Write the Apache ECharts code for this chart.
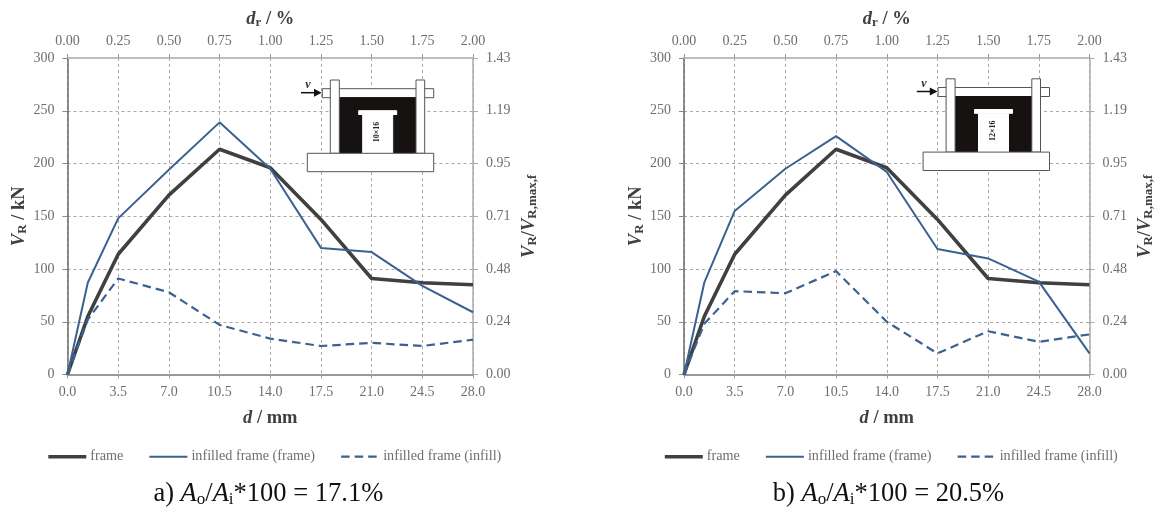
<!DOCTYPE html>
<html><head><meta charset="utf-8">
<style>html,body{margin:0;padding:0;background:#fff}#c{width:1156px;height:507px}</style>
<script src="https://cdn.jsdelivr.net/npm/echarts@6/dist/echarts.min.js"></script>
</head><body><div id="c"></div>
<script>
const dispMm = [0, 1.4, 3.5, 7, 10.5, 14, 17.5, 21, 24.5, 28];
const frameVals = [0, 55, 114, 170, 213.5, 196, 147, 91, 87, 85];
const infFrameA = [0, 87, 148, 194, 239, 195, 120, 116, 84, 59];
const infillA = [0, 52, 91, 78, 47, 34, 27, 30, 27, 33];
const infFrameB = [0, 87, 155, 195, 226, 192, 119, 110, 88, 20];
const infillB = [0, 48, 79, 77, 98, 50, 20, 41, 31, 38];
const names = ['frame', 'infilled frame (frame)', 'infilled frame (infill)'];
const openingLabels = ['10×16', '12×16'];

const SERIF = '"Liberation Serif","Times New Roman",serif';
const GREY = '#6e6e6e', DARK = '#404040', BLUE = '#3a6290';
const zip = v => dispMm.map((x, i) => [x, v[i]]);
const nameRich = {
  b: {fontFamily: SERIF, fontSize: 18.5, fontWeight: 'bold', fontStyle: 'italic', color: DARK},
  n: {fontFamily: SERIF, fontSize: 18.5, fontWeight: 'bold', color: DARK},
  s: {fontFamily: SERIF, fontSize: 13, fontWeight: 'bold', color: DARK, verticalAlign: 'bottom', padding: [7, 0, 0, 0]},
  si: {fontFamily: SERIF, fontSize: 13, fontWeight: 'bold', color: DARK, verticalAlign: 'bottom', padding: [7, 0, 0, 0]}
};
const capRich = {
  t: {fontFamily: SERIF, fontSize: 26.5, fontWeight: 'normal', color: '#111'},
  i: {fontFamily: SERIF, fontSize: 26.5, fontWeight: 'normal', fontStyle: 'italic', color: '#111'},
  s: {fontFamily: SERIF, fontSize: 17, fontWeight: 'normal', color: '#111', verticalAlign: 'bottom', padding: [9, 0, 0, 0]}
};
const lbl = {fontFamily: SERIF, fontSize: 14, color: GREY};
const gridLine = {show: true, lineStyle: {color: '#a8a8a8', type: [3, 3], width: 1}};
const axisX = (g, extra) => Object.assign({
  type: 'value', gridIndex: g,
  axisTick: {show: true, length: 4, lineStyle: {color: '#999'}}, nameLocation: 'middle', nameTextStyle: {rich: nameRich}
}, extra);

const grids = [
  {left: 67.5, top: 58, width: 405.5, height: 316.5, outerBoundsMode: 'none'},
  {left: 684, top: 58, width: 405.5, height: 316.5, outerBoundsMode: 'none'}
];
const xAxes = [], yAxes = [], series = [];
[0, 1].forEach(k => {
  xAxes.push(axisX(k, {position: 'bottom', min: 0, max: 28, interval: 3.5,
    axisLine: {onZero: false, lineStyle: {color: '#9a9a9a', width: 2}},
    axisLabel: Object.assign({margin: 11, showMinLabel: true, showMaxLabel: true, formatter: v => v.toFixed(1)}, lbl),
    splitLine: gridLine, name: '{b|d}{n| / mm}', nameGap: 34}));
  xAxes.push(axisX(k, {position: 'top', min: 0, max: 2, interval: 0.25,
    axisLine: {onZero: false, lineStyle: {color: '#bdbdbd', width: 2}},
    axisLabel: Object.assign({margin: 9.5, showMinLabel: true, showMaxLabel: true, formatter: v => v.toFixed(2)}, lbl),
    splitLine: {show: false}, name: '{b|d}{si|r}{n| / %}', nameGap: 29}));
  yAxes.push({type: 'value', gridIndex: k, position: 'left', min: 0, max: 300, interval: 50,
    axisLine: {onZero: false, show: true, lineStyle: {color: '#6a6a6a', width: 1.5}},
    axisTick: {show: true, length: 5, lineStyle: {color: '#888'}},
    axisLabel: Object.assign({margin: 13}, lbl), splitLine: gridLine,
    name: '{b|V}{s|R}{n| / kN}', nameLocation: 'middle', nameRotate: 90, nameGap: 38, nameTextStyle: {rich: nameRich}});
  yAxes.push({type: 'value', gridIndex: k, position: 'right', min: 0, max: 1.43, interval: 1.43 / 6,
    axisLine: {onZero: false, show: true, lineStyle: {color: '#ababab', width: 1.5}},
    axisTick: {show: true, length: 5, lineStyle: {color: '#aaa'}},
    axisLabel: Object.assign({margin: 13, formatter: v => v.toFixed(2)}, lbl), splitLine: {show: false},
    name: '{b|V}{s|R}{n|/}{b|V}{s|R,max,f}', nameLocation: 'middle', nameRotate: 90, nameGap: 46, nameTextStyle: {rich: nameRich}});
  const sets = k === 0 ? [infFrameA, infillA] : [infFrameB, infillB];
  const base = {type: 'line', symbol: 'none', xAxisIndex: k * 2, yAxisIndex: k * 2, silent: true, animation: false};
  series.push(Object.assign({}, base, {name: names[0], data: zip(frameVals), lineStyle: {color: DARK, width: 3.6}, itemStyle: {color: DARK}}));
  series.push(Object.assign({}, base, {name: names[1], data: zip(sets[0]), lineStyle: {color: BLUE, width: 2}, itemStyle: {color: BLUE}}));
  series.push(Object.assign({}, base, {name: names[2], data: zip(sets[1]), lineStyle: {color: BLUE, width: 2.2, type: [8.5, 5]}, itemStyle: {color: BLUE}}));
});
const legend = l => ({show: true, data: names, left: l, top: 449.7, padding: 0, itemWidth: 38, itemHeight: 14, itemGap: 25,
  itemStyle: {opacity: 0}, lineStyle: {width: 'inherit'},
  textStyle: {fontFamily: SERIF, fontSize: 14.2, color: GREY, padding: [0, 0, 0, -1]}});

function inset(o) {
  const s = {fill: '#fff', stroke: '#555', lineWidth: 1};
  const R = (a, b, c, d, st) => ({type: 'rect', z: 10, shape: {x: a + o.dx, y: b + o.dy, width: c - a, height: d - b}, style: st || s});
  return [
    R(322.3, 88.7, 433.7, 97.7),
    R(339, 97.7, 416.5, 153.3, {fill: '#161212', stroke: '#161212'}),
    R(330.3, 80, 339.3, 153.3),
    R(416, 80, 424.7, 153.3),
    R(362.7, 115, 392.7, 153.3, {fill: '#fff', stroke: '#fff'}),
    R(358.7, 110.7, 396.7, 114.5, {fill: '#fff', stroke: '#fff'}),
    R(307.3, 153.3, 433.7, 171.7),
    {type: 'line', z: 11, shape: {x1: 301 + o.dx, y1: 92.7 + o.dy, x2: 316 + o.dx, y2: 92.7 + o.dy}, style: {stroke: '#111', lineWidth: 1.5}},
    {type: 'polygon', z: 11, shape: {points: [[314 + o.dx, 88.7 + o.dy], [321.7 + o.dx, 92.7 + o.dy], [314 + o.dx, 96.7 + o.dy]]}, style: {fill: '#111'}},
    {type: 'text', z: 11, x: 308 + o.dx, y: 85 + o.dy, style: {text: 'v', fontFamily: SERIF, fontSize: 12, fontStyle: 'italic', fontWeight: 'bold', fill: '#333', align: 'center', verticalAlign: 'middle'}},
    {type: 'text', z: 11, x: 377 + o.dx, y: 132 + o.dy, rotation: Math.PI / 2, style: {text: o.label, fontFamily: SERIF, fontSize: 8, fontWeight: 'bold', fill: '#222', align: 'center', verticalAlign: 'middle'}}
  ];
}
const cap = (txt, l) => ({text: txt, left: l, top: 481, textAlign: 'center', textStyle: {rich: capRich}, padding: 0});

const chart = echarts.init(document.getElementById('c'), null, {renderer: 'canvas'});
chart.setOption({
  animation: false, backgroundColor: '#fff',
  grid: grids, xAxis: xAxes, yAxis: yAxes, series,
  legend: [legend(46.5), legend(663)],
  title: [
    cap('{t|a) }{i|A}{s|o}{t|/}{i|A}{s|i}{t|*100 = 17.1%}', 268.3),
    cap('{t|b) }{i|A}{s|o}{t|/}{i|A}{s|i}{t|*100 = 20.5%}', 888.5)
  ],
  graphic: inset({dx: 0, dy: 0, label: openingLabels[0]}).concat(inset({dx: 615.8, dy: -1.2, label: openingLabels[1]}))
});
</script></body></html>
